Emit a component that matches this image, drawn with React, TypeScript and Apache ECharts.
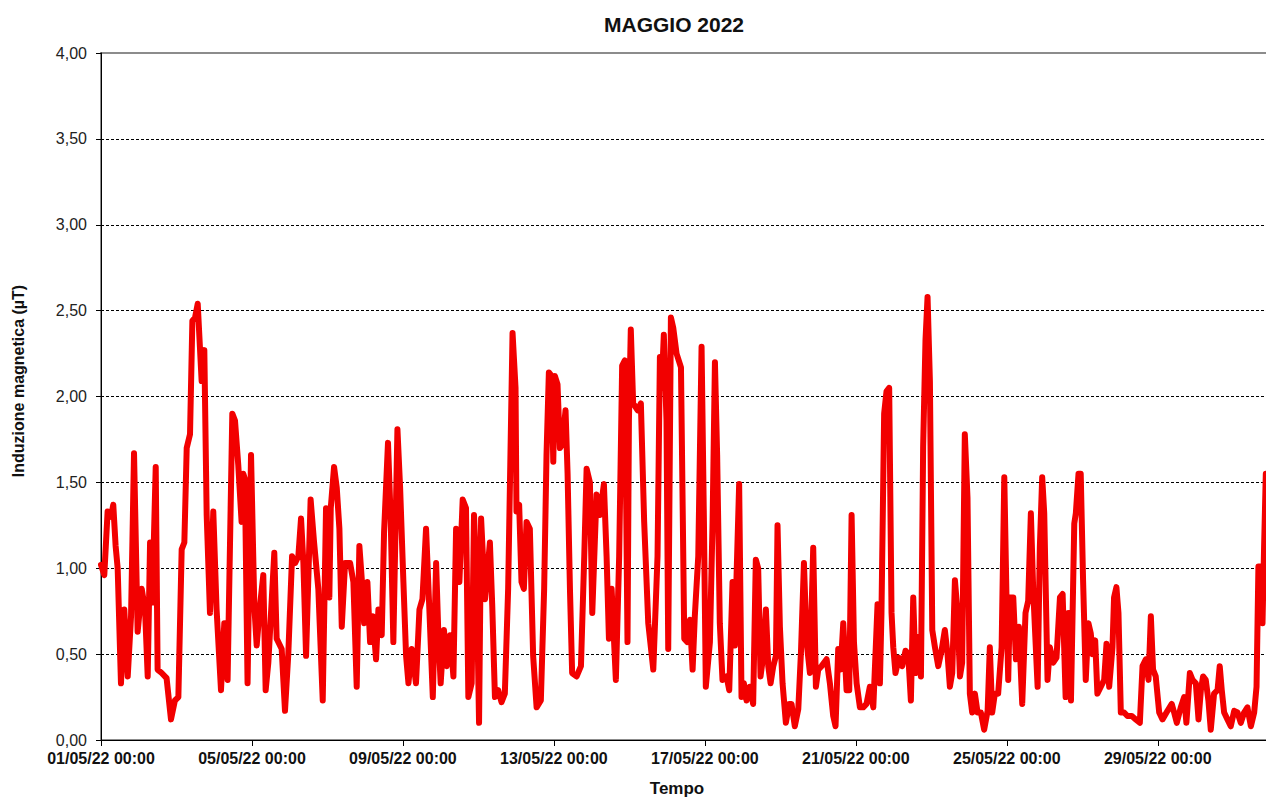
import React, { useEffect, useRef } from 'react';
import * as echarts from 'echarts';

const FONT = '"Liberation Sans", Arial, sans-serif';

const chartTitle = 'MAGGIO 2022';
const yAxisName = 'Induzione magnetica (µT)';
const xAxisName = 'Tempo';

// x tick labels, one every 96 hours (4 days)
const tickLabels = [
  '01/05/22 00:00',
  '05/05/22 00:00',
  '09/05/22 00:00',
  '13/05/22 00:00',
  '17/05/22 00:00',
  '21/05/22 00:00',
  '25/05/22 00:00',
  '29/05/22 00:00',
];

// readings: [hours since 01/05/22 00:00, µT]
const days01to06: [number, number][] = [
  [0, 1.02], [2.1, 0.96], [4.2, 1.33], [6.4, 1.3], [7.8, 1.37], [9.3, 1.13], [10.6, 1.0], [12.7, 0.33],
  [14.8, 0.76], [17.0, 0.37], [19.1, 0.72], [21.0, 1.67], [23.3, 0.63], [25.9, 0.88], [28.0, 0.76],
  [29.7, 0.37], [31.2, 1.15], [32.6, 0.8], [34.8, 1.59], [36.0, 0.41], [38.6, 0.39], [41.7, 0.36],
  [44.5, 0.12], [47.0, 0.23], [49.2, 0.25], [51.3, 1.11], [53.0, 1.15], [54.5, 1.7], [56.6, 1.78],
  [58.1, 2.44], [59.8, 2.46], [61.5, 2.54], [63.0, 2.27], [64.0, 2.09], [65.7, 2.27], [67.2, 1.31],
  [69.3, 0.74], [71.4, 1.33], [73.5, 0.76], [76.3, 0.29], [78.4, 0.68], [80.5, 0.35], [83.5, 1.9],
  [85.2, 1.86], [87.3, 1.6], [89.4, 1.27], [90.5, 1.55], [91.5, 1.52], [93.2, 0.33], [95.4, 1.66],
  [97.5, 0.78], [99.0, 0.55], [101.1, 0.78], [103.2, 0.96], [104.7, 0.29], [106.4, 0.45], [110.2, 1.09],
  [111.7, 0.59], [114.9, 0.53], [117.0, 0.17], [119.1, 0.5], [121.5, 1.07],
];

const days06to11: [number, number][] = [
  [123.4, 1.03], [125.5, 1.07], [127.2, 1.29], [128.7, 1.03], [130.4, 0.49], [133.3, 1.4], [135.5, 1.15],
  [138.2, 0.88], [141.0, 0.23], [143.1, 1.35], [145.2, 0.83], [146.1, 1.35], [148.2, 1.59], [149.9, 1.47],
  [151.6, 1.23], [153.1, 0.66], [155.2, 1.03], [158.4, 1.03], [160.5, 0.92], [162.6, 0.31], [164.3, 1.13],
  [165.8, 0.94], [167.3, 0.68], [169.4, 0.92], [171.1, 0.57], [172.8, 0.72], [174.9, 0.47], [176.4, 0.76],
  [178.5, 0.61], [180.0, 1.21], [182.5, 1.73], [184.2, 1.29], [185.9, 0.57], [188.5, 1.81], [190.2, 1.47],
  [192.3, 0.92], [194.0, 0.49], [195.5, 0.33], [197.6, 0.53], [200.3, 0.33], [202.5, 0.76], [204.4, 0.82],
  [206.7, 1.23], [208.8, 0.76], [211.0, 0.25], [213.1, 1.03], [214.5, 0.62], [216.0, 0.33], [218.1, 0.64],
  [219.8, 0.43], [222.0, 0.61], [224.1, 0.37], [225.8, 1.23], [227.9, 0.92], [230.0, 1.4], [232.1, 1.35],
  [233.6, 0.25], [235.7, 0.33], [237.2, 1.31], [238.9, 0.92], [240.4, 0.1], [241.7, 1.29], [244.2, 0.82],
];

const days11to16: [number, number][] = [
  [247.3, 1.15], [248.8, 0.78], [250.5, 0.25], [252.6, 0.29], [254.7, 0.22], [256.8, 0.27], [258.9, 0.88],
  [261.7, 2.37], [263.6, 2.05], [264.2, 1.33], [265.9, 1.37], [267.4, 0.92], [268.9, 0.88], [270.6, 1.27],
  [272.7, 1.23], [274.8, 0.49], [277.0, 0.19], [279.7, 0.23], [281.8, 0.88], [283.3, 1.66], [284.8, 2.14],
  [286.5, 2.12], [287.6, 1.62], [288.6, 2.12], [290.3, 2.07], [291.8, 1.7], [293.3, 1.72], [295.4, 1.92],
  [296.7, 1.55], [298.2, 0.88], [299.6, 0.39], [302.4, 0.37], [305.2, 0.43], [307.3, 1.07], [308.8, 1.58],
  [310.9, 1.5], [312.4, 0.74], [315.1, 1.43], [317.2, 1.31], [319.8, 1.49], [321.5, 1.07], [323.0, 0.59],
  [324.7, 0.88], [327.4, 0.35], [329.5, 1.07], [331.4, 2.18], [333.1, 2.21], [334.8, 0.57], [335.7, 1.86],
  [336.9, 2.39], [338.4, 1.96], [341.2, 1.92], [343.3, 1.96], [345.4, 1.27], [348.0, 0.68], [351.2, 0.41],
  [353.9, 1.07], [355.4, 2.23], [356.5, 2.05], [357.9, 2.36], [359.6, 1.86], [360.7, 0.53], [362.4, 2.46],
  [363.9, 2.4], [366.0, 2.25], [368.8, 2.17], [370.9, 0.59],
];

const days16to21: [number, number][] = [
  [372.8, 0.57], [374.5, 0.7], [376.2, 0.41], [377.6, 0.72], [379.8, 1.07], [381.9, 2.29], [383.4, 1.27],
  [384.6, 0.31], [387.2, 0.57], [388.9, 1.27], [390.4, 2.2], [391.8, 1.66], [393.5, 0.68], [395.2, 0.35],
  [397.8, 0.37], [399.5, 0.29], [401.6, 0.92], [403.1, 0.55], [404.1, 0.94], [405.8, 1.49], [407.3, 0.25],
  [408.8, 0.33], [410.5, 0.23], [412.6, 0.31], [414.7, 0.21], [416.4, 1.05], [417.9, 1.0], [419.4, 0.37],
  [421.1, 0.49], [422.8, 0.76], [424.3, 0.43], [425.8, 0.33], [427.5, 0.43], [429.2, 0.49], [430.2, 1.25],
  [431.7, 0.66], [433.4, 0.33], [435.5, 0.1], [437.6, 0.21], [439.1, 0.21], [441.2, 0.08], [443.4, 0.18],
  [445.1, 0.51], [447.0, 1.03], [448.7, 0.57], [450.8, 0.39], [452.9, 1.12], [454.6, 0.31], [456.1, 0.41],
  [458.2, 0.43], [461.4, 0.47], [463.5, 0.33], [465.6, 0.14], [467.1, 0.08], [468.8, 0.53], [470.3, 0.41],
  [472.0, 0.68], [474.1, 0.29], [475.8, 0.29], [477.3, 1.31], [478.8, 0.57], [480.5, 0.33], [482.6, 0.19],
  [484.7, 0.19], [486.8, 0.21], [488.9, 0.31], [491.1, 0.19],
];

const days21to26: [number, number][] = [
  [493.8, 0.79], [495.3, 0.33], [496.3, 0.74], [498.0, 1.9], [499.5, 2.03], [501.2, 2.05], [502.7, 0.74],
  [503.8, 0.54], [505.2, 0.39], [507.4, 0.48], [509.5, 0.43], [511.6, 0.52], [513.3, 0.5], [515.0, 0.23],
  [516.5, 0.83], [518.0, 0.39], [519.2, 0.6], [521.4, 0.37], [522.8, 1.71], [524.3, 2.33], [525.6, 2.58],
  [527.1, 2.09], [528.6, 0.64], [530.3, 0.54], [532.4, 0.43], [534.5, 0.52], [536.6, 0.64], [538.3, 0.5],
  [539.8, 0.31], [541.3, 0.39], [543.0, 0.93], [544.7, 0.74], [546.2, 0.37], [547.6, 0.45], [549.3, 1.78],
  [551.0, 1.41], [552.5, 0.27], [554.0, 0.16], [555.7, 0.27], [557.4, 0.16], [559.5, 0.16], [561.6, 0.06],
  [563.8, 0.17], [565.2, 0.54], [566.7, 0.16], [568.4, 0.27], [570.5, 0.27], [572.7, 0.54], [574.4, 1.53],
  [575.8, 0.83], [576.9, 0.35], [578.0, 0.83], [580.1, 0.83], [581.8, 0.47], [583.7, 0.66], [585.8, 0.21],
  [587.9, 0.74], [589.6, 0.81], [591.3, 1.32], [592.8, 0.87], [595.6, 0.31], [597.0, 1.12], [598.5, 1.53],
  [599.8, 1.32], [601.9, 0.35], [603.4, 0.54], [605.5, 0.45], [607.6, 0.48], [609.8, 0.83], [611.5, 0.85],
  [613.4, 0.25], [615.1, 0.74], [616.8, 0.23], [618.9, 1.26],
];

const days26to31: [number, number][] = [
  [619.9, 1.32], [621.6, 1.55], [623.0, 1.55], [624.5, 0.93], [626.2, 0.35], [627.9, 0.68], [629.4, 0.62],
  [630.5, 0.5], [632.2, 0.58], [633.6, 0.27], [635.8, 0.31], [637.9, 0.35], [639.4, 0.56], [641.1, 0.31],
  [643.2, 0.54], [644.2, 0.83], [645.7, 0.89], [647.0, 0.74], [648.5, 0.16], [650.6, 0.16], [652.7, 0.14],
  [655.5, 0.14], [658.0, 0.12], [660.6, 0.1], [662.3, 0.43], [664.4, 0.47], [666.1, 0.35], [667.6, 0.72],
  [669.0, 0.41], [670.7, 0.37], [672.9, 0.16], [675.0, 0.12], [678.2, 0.17], [680.9, 0.21], [682.4, 0.16],
  [684.1, 0.1], [686.6, 0.19], [688.8, 0.25], [690.2, 0.1], [692.4, 0.39], [694.1, 0.35], [696.2, 0.33],
  [697.9, 0.12], [699.4, 0.29], [700.8, 0.37], [702.5, 0.35], [704.2, 0.23], [705.7, 0.06], [707.8, 0.27],
  [710.0, 0.29], [711.4, 0.43], [712.7, 0.29], [714.2, 0.16], [716.3, 0.12], [718.4, 0.08], [720.6, 0.17],
  [722.7, 0.16], [724.8, 0.1], [726.9, 0.16], [729.0, 0.19], [731.2, 0.08], [733.3, 0.16], [734.8, 0.31],
  [736.0, 1.01], [737.5, 1.01], [738.6, 0.68], [739.6, 1.12], [740.7, 1.55],
];

export default function App() {
  const ref = useRef<HTMLDivElement>(null);

  useEffect(() => {
    if (!ref.current) return;
    const chart = echarts.init(ref.current, null, { renderer: 'svg' });
    const data = [
      ...days01to06,
      ...days06to11,
      ...days11to16,
      ...days16to21,
      ...days21to26,
      ...days26to31,
    ];
    chart.setOption({
      animation: false,
      backgroundColor: '#ffffff',
      title: {
        text: chartTitle,
        left: 674,
        top: 14,
        textAlign: 'center',
        padding: 0,
        textStyle: { fontFamily: FONT, fontSize: 21, fontWeight: 'bold', color: '#111' },
      },
      grid: {
        left: 101,
        right: -5,
        top: 53,
        bottom: 58,
        show: true,
        borderColor: '#8c8c8c',
        borderWidth: 2,
        backgroundColor: 'transparent',
        outerBoundsMode: 'none',
      },
      xAxis: {
        type: 'value',
        min: 0,
        max: 744,
        interval: 96,
        axisLine: { show: true, onZero: false, lineStyle: { color: '#000', width: 1 } },
        axisTick: { show: true, length: 6, lineStyle: { color: '#000' } },
        splitLine: { show: false },
        axisLabel: {
          formatter: (v: number) => tickLabels[Math.round(v / 96)] ?? '',
          margin: 10,
          fontFamily: FONT,
          fontSize: 16,
          fontWeight: 'bold',
          color: '#111',
          showMaxLabel: false,
        },
      },
      yAxis: {
        type: 'value',
        min: 0,
        max: 4,
        interval: 0.5,
        axisLine: { show: true, lineStyle: { color: '#000', width: 1 } },
        axisTick: { show: true, length: 5, lineStyle: { color: '#000' } },
        splitLine: {
          show: true,
          showMaxLine: false,
          showMinLine: false,
          lineStyle: { color: '#000', type: [3, 2], width: 1 },
        },
        axisLabel: {
          formatter: (v: number) => v.toFixed(2).replace('.', ','),
          margin: 14,
          fontFamily: FONT,
          fontSize: 16,
          color: '#222',
        },
      },
      graphic: [
        {
          type: 'text',
          x: 18,
          y: 381,
          rotation: Math.PI / 2,
          style: {
            text: yAxisName,
            fontFamily: FONT,
            fontSize: 16,
            fontWeight: 'bold',
            fill: '#111',
            align: 'center',
            verticalAlign: 'middle',
          },
        },
        {
          type: 'text',
          x: 677,
          y: 788,
          style: {
            text: xAxisName,
            fontFamily: FONT,
            fontSize: 17,
            fontWeight: 'bold',
            fill: '#111',
            align: 'center',
            verticalAlign: 'middle',
          },
        },
      ],
      series: [
        {
          type: 'line',
          data,
          showSymbol: false,
          symbol: 'none',
          lineStyle: { color: '#f20000', width: 6, join: 'round', cap: 'round' },
          itemStyle: { color: '#f20000' },
          z: 3,
        },
      ],
    });
    return () => chart.dispose();
  }, []);

  return (
    <div
      ref={ref}
      style={{ position: 'fixed', left: 0, top: 0, width: 1266, height: 798, background: '#fff' }}
    />
  );
}
